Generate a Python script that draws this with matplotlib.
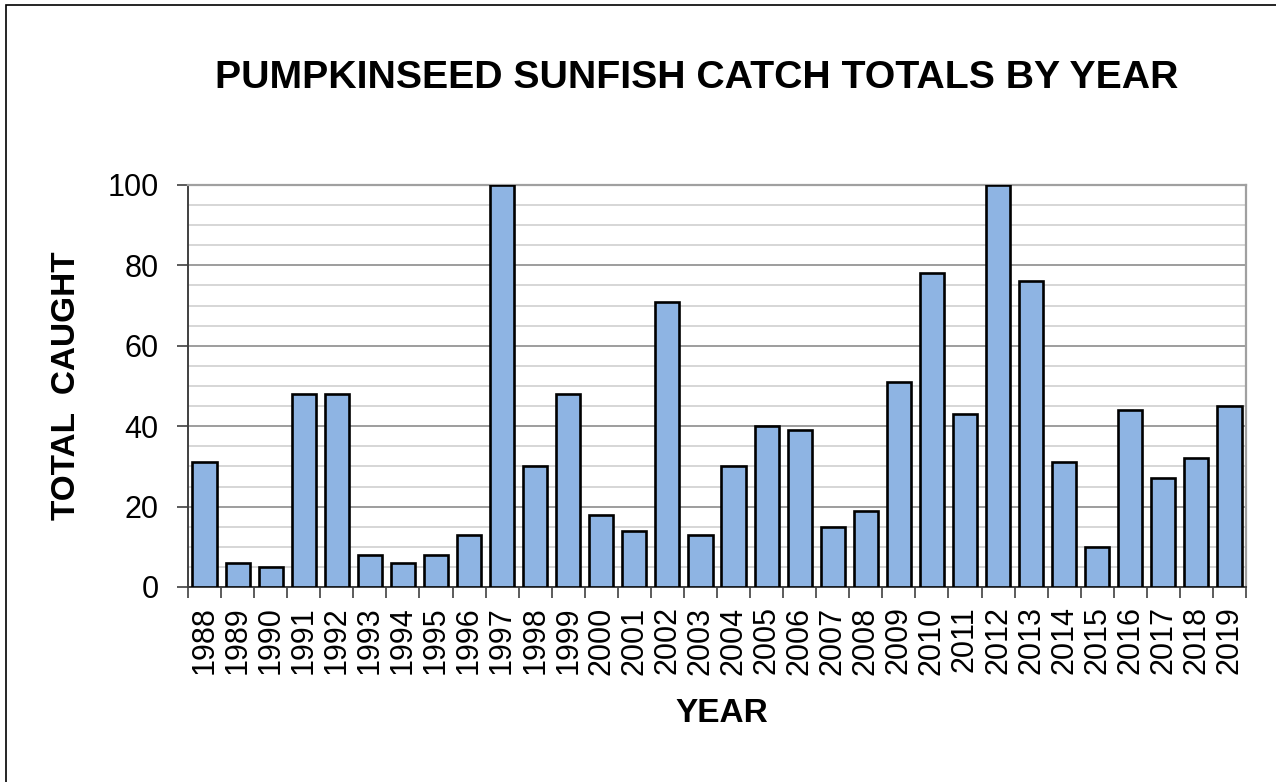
import matplotlib
matplotlib.use("Agg")
import matplotlib.pyplot as plt
from matplotlib.patches import Rectangle
from matplotlib.ticker import MultipleLocator, FixedLocator, NullFormatter

years = [str(y) for y in range(1988, 2020)]
caught = [31, 6, 5, 48, 48, 8, 6, 8, 13, 100, 30, 48, 18, 14, 71, 13,
          30, 40, 39, 15, 19, 51, 78, 43, 100, 76, 31, 10, 44, 27, 32, 45]

title = "PUMPKINSEED SUNFISH CATCH TOTALS BY YEAR"
xlabel = "YEAR"
ylabel = "TOTAL  CAUGHT"

plt.rcParams['font.family'] = ['Liberation Sans', 'DejaVu Sans']

W, H = 1276, 782
fig = plt.figure(figsize=(W / 100, H / 100), dpi=100)
ax = fig.add_axes([188 / W, 1 - 587 / H, (1246 - 188) / W, (587 - 185) / H])

x = list(range(len(years)))
ax.bar(x, caught, width=0.73, color="#8EB4E3", edgecolor="black",
       linewidth=1.9, zorder=3)

ax.set_xlim(-0.5, len(years) - 0.5)
ax.set_ylim(0, 100)

ax.yaxis.set_major_locator(MultipleLocator(20))
ax.yaxis.set_minor_locator(MultipleLocator(5))
ax.grid(which="major", axis="y", color="#8c8c8c", linewidth=1.2, zorder=0)
ax.grid(which="minor", axis="y", color="#d0d0d0", linewidth=1.2, zorder=0)
ax.tick_params(axis="y", which="minor", length=0)
ax.tick_params(axis="y", which="major", direction="out", length=8, width=1.2,
               color="#404040", labelsize=22, pad=13)

ax.set_xticks(x)
ax.set_xticklabels(years, rotation=90, fontsize=22)
ax.tick_params(axis="x", which="major", length=0, pad=14)
ax.xaxis.set_minor_locator(FixedLocator([i - 0.5 for i in range(len(years) + 1)]))
ax.xaxis.set_minor_formatter(NullFormatter())
ax.tick_params(axis="x", which="minor", direction="out", length=8, width=1.2,
               color="#404040")

for side in ["left", "bottom"]:
    ax.spines[side].set_color("#404040")
    ax.spines[side].set_linewidth(1.4)
for side in ["top", "right"]:
    ax.spines[side].set_color("#a0a0a0")
    ax.spines[side].set_linewidth(1.6)
ax.set_axisbelow(True)

fig.text(697 / W, 1 - 78 / H, title, ha="center", va="center",
         fontsize=28.3, fontweight="bold")
fig.text(722 / W, 1 - 714 / H, xlabel, ha="center", va="center",
         fontsize=24, fontweight="bold")
fig.text(67 / W, 1 - 386 / H, ylabel, ha="center", va="center",
         fontsize=24, fontweight="bold", rotation=90)

fig.patches.append(Rectangle((6 / W, -0.1), 1.2, 1 - 4.5 / H + 0.1,
                             transform=fig.transFigure, fill=False,
                             edgecolor="black", linewidth=1.2))

fig.savefig("out.png", dpi=100)
